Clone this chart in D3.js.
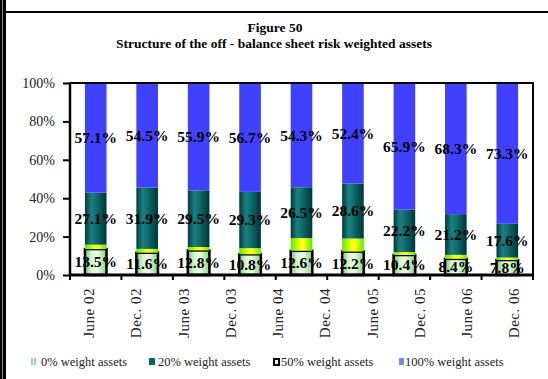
<!DOCTYPE html>
<html><head><meta charset="utf-8">
<script src="https://cdnjs.cloudflare.com/ajax/libs/d3/7.8.5/d3.min.js"></script>
<style>
html,body{margin:0;padding:0;background:#fff;}
svg, svg text{font-family:"Liberation Serif","Times New Roman",serif !important;}
</style></head>
<body>
<svg id="c" width="548" height="379"></svg>
<script>
// ---- data ----
const tickLabels = ["June 02","Dec. 02","June 03","Dec. 03","June 04","Dec. 04","June 05","Dec. 05","June 06","Dec. 06"];
const w0   = [13.5, 11.6, 12.8, 10.8, 12.6, 12.2, 10.4, 8.4, 7.8];
const w50  = [2.3, 2.0, 1.8, 3.2, 6.6, 6.8, 1.5, 2.1, 1.3];
const w20  = [27.1, 31.9, 29.5, 29.3, 26.5, 28.6, 22.2, 21.2, 17.6];
const w100 = [57.1, 54.5, 55.9, 56.7, 54.3, 52.4, 65.9, 68.3, 73.3];
const yTicks = [0, 20, 40, 60, 80, 100];
const seriesNames = ["0% weight assets", "20% weight assets", "50% weight assets", "100% weight assets"];
const titleLines = ["Figure 50", "Structure of the off - balance sheet risk weighted assets"];

// ---- layout ----
const svg = d3.select("#c");
const L = 70, R = 533, T = 83, B = 275;

const rows = w0.map((d, i) => ({i, w0: d, w50: w50[i], w20: w20[i], w100: w100[i]}));
const stack = d3.stack().keys(["w0", "w50", "w20", "w100"])(rows);

const x = d3.scaleBand().domain(rows.map(r => r.i)).range([L, R]).paddingInner(0.58).paddingOuter(0.29);
const y = d3.scaleLinear().domain([0, 100]).range([B, T]);
const xLab = d3.scalePoint().domain(tickLabels).range([89, 514]);
const xTick = d3.scaleLinear().domain([0, rows.length]).range([L, R]);

// gradients
const defs = svg.append("defs");
function grad(id, stops) {
  const g = defs.append("linearGradient").attr("id", id).attr("x1", "0").attr("x2", "1").attr("y1", "0").attr("y2", "0");
  stops.forEach(s => g.append("stop").attr("offset", s[0]).attr("stop-color", s[1]));
}
grad("gGreen", [[0, "#7fbf7f"], [0.3, "#d8f5d0"], [0.55, "#e8ffe0"], [1, "#8ccc8c"]]);
grad("gTeal", [[0, "#003c3c"], [0.3, "#1a8080"], [0.5, "#107070"], [1, "#003535"]]);
grad("gYel", [[0, "#55ee00"], [0.45, "#ffff00"], [0.6, "#ffff20"], [1, "#55ee00"]]);

// outer frame
svg.append("rect").attr("x", 0).attr("y", 0).attr("width", 2).attr("height", 379).attr("fill", "#000");
svg.append("rect").attr("x", 2).attr("y", 0).attr("width", 1).attr("height", 379).attr("fill", "#888");
svg.append("rect").attr("x", 3).attr("y", 0).attr("width", 3).attr("height", 379).attr("fill", "#000");
svg.append("line").attr("x1", 3).attr("x2", 548).attr("y1", 12).attr("y2", 12).attr("stroke", "#000").attr("stroke-width", 2);

// title
svg.append("text").attr("x", 275).attr("y", 32).attr("text-anchor", "middle")
  .attr("font-weight", "bold").attr("font-size", "13.5px").text(titleLines[0]);
svg.append("text").attr("x", 274).attr("y", 48).attr("text-anchor", "middle")
  .attr("font-weight", "bold").attr("font-size", "13.5px").text(titleLines[1]);

// bars
const fills = {w0: "url(#gGreen)", w50: "url(#gYel)", w20: "url(#gTeal)", w100: "#4040ff"};
const g = svg.append("g");
stack.forEach(s => {
  g.selectAll(null).data(s).enter().append("rect")
    .attr("x", d => x(d.data.i))
    .attr("width", x.bandwidth())
    .attr("y", d => y(d[1]))
    .attr("height", d => y(d[0]) - y(d[1]))
    .attr("fill", fills[s.key])
    .attr("stroke", s.key === "w0" ? "#000" : "none")
    .attr("stroke-width", s.key === "w0" ? 2.5 : 0);
});

// plot frame
svg.append("rect").attr("x", L).attr("y", T).attr("width", R - L).attr("height", B - T)
  .attr("fill", "none").attr("stroke", "#000").attr("stroke-width", 2);
svg.append("line").attr("x1", L - 1).attr("x2", R + 1).attr("y1", B).attr("y2", B).attr("stroke", "#000").attr("stroke-width", 3);
svg.append("line").attr("x1", L).attr("x2", L).attr("y1", T).attr("y2", B).attr("stroke", "#000").attr("stroke-width", 2.5);

// y axis
const ya = svg.append("g").attr("transform", `translate(${L},0)`)
  .call(d3.axisLeft(y).tickValues(yTicks).tickFormat(d => d + "%").tickSize(7).tickPadding(8));
ya.attr("font-family", null);
ya.select(".domain").remove();
ya.selectAll("line").attr("stroke", "#000").attr("stroke-width", 2);
ya.selectAll("text").style("font-size", "14px").attr("fill", "#222");

// x ticks
svg.append("g").selectAll("line").data(d3.range(rows.length + 1)).enter().append("line")
  .attr("x1", d => xTick(d)).attr("x2", d => xTick(d)).attr("y1", B).attr("y2", B + 5)
  .attr("stroke", "#000").attr("stroke-width", 2);

// x labels
svg.append("g").selectAll("text").data(tickLabels).enter().append("text")
  .attr("transform", d => `translate(${xLab(d)},288) rotate(-90)`)
  .attr("text-anchor", "end").attr("dy", "0.35em")
  .attr("font-size", "15px").attr("letter-spacing", "0.5px").attr("fill", "#222")
  .text(d => d);

// value labels
const lab = svg.append("g").attr("font-weight", "bold").attr("font-size", "15.5px").attr("text-anchor", "middle");
stack.filter(s => s.key !== "w50").forEach(s => {
  lab.selectAll(null).data(s).enter().append("text")
    .attr("x", d => x(d.data.i) + x.bandwidth() / 2)
    .attr("y", d => (y(d[0]) + y(d[1])) / 2)
    .attr("dy", "0.35em")
    .text(d => d.data[s.key].toFixed(1) + "%");
});

// legend
const leg = [
  {name: seriesNames[0], sx: 31, tx: 41},
  {name: seriesNames[1], sx: 149, tx: 158},
  {name: seriesNames[2], sx: 273, tx: 281},
  {name: seriesNames[3], sx: 399, tx: 405}
];
const lg = svg.append("g");
lg.append("rect").attr("x", leg[0].sx).attr("y", 358).attr("width", 2).attr("height", 7).attr("fill", "#9ad49a");
lg.append("rect").attr("x", leg[0].sx + 3).attr("y", 358).attr("width", 2).attr("height", 7).attr("fill", "#9ad49a");
lg.append("rect").attr("x", leg[1].sx).attr("y", 358).attr("width", 6).attr("height", 7).attr("fill", "#006666");
lg.append("rect").attr("x", leg[2].sx).attr("y", 358).attr("width", 7).attr("height", 8).attr("fill", "#000");
lg.append("rect").attr("x", leg[2].sx + 2).attr("y", 360).attr("width", 3).attr("height", 4).attr("fill", "#ffffa0");
lg.append("rect").attr("x", leg[3].sx).attr("y", 358).attr("width", 5).attr("height", 7).attr("fill", "#6f8cff");
lg.selectAll("text").data(leg).enter().append("text")
  .attr("x", d => d.tx).attr("y", 366).attr("font-size", "12.5px").attr("fill", "#222").text(d => d.name);
</script>
</body></html>
